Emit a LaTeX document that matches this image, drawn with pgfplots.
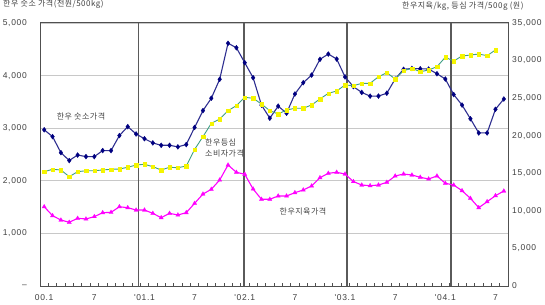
\documentclass[border=0pt]{standalone}
\usepackage{fontspec}
\setmainfont{Liberation Sans}
\newfontfamily\numfont[LetterSpace=8]{Liberation Sans}
\newfontfamily\kr[LetterSpace=6]{Noto Sans CJK KR}
\usepackage{pgfplots}
\usepackage{pgfplotstable}
\pgfplotsset{compat=1.18}
\definecolor{txt}{HTML}{404040}
\definecolor{axc}{HTML}{505050}
\definecolor{yr}{HTML}{5A5A5A}
\definecolor{grd}{HTML}{C8C8C8}
\definecolor{navyline}{HTML}{2E2E90}
\definecolor{navym}{HTML}{000080}
\definecolor{teal}{HTML}{3E9E84}
\definecolor{yel}{HTML}{F5F500}
\definecolor{mag}{HTML}{FF00FF}

\pgfplotstableread{
y
2970
2840
2535
2385
2490
2460
2460
2575
2575
2860
3030
2890
2800
2720
2675
2675
2645
2690
3015
3335
3570
3930
4615
4530
4245
3960
3440
3190
3420
3285
3650
3865
4010
4310
4410
4315
3975
3790
3680
3610
3610
3665
3935
4120
4135
4130
4125
4035
3935
3640
3440
3180
2910
2910
3360
3555
}\bluedata

\pgfplotstableread{
y
15210
15530
15440
14550
15210
15340
15340
15440
15530
15570
15800
16100
16200
15880
15440
15800
15740
15970
18190
19870
21650
22220
23330
24000
25110
24980
24220
23330
22890
23420
23650
23650
24090
24890
25640
25950
26750
26660
26970
26970
27850
28390
27550
28650
28970
28520
28740
29190
30440
29940
30610
30740
30870
30650
31410
}\yellowdata

\pgfplotstableread{
y
10550
9360
8780
8480
9010
8920
9230
9760
9800
10550
10420
10110
10110
9670
9090
9670
9450
9760
11000
12240
12870
14110
16100
15130
14870
12910
11540
11540
11980
11980
12420
12780
13310
14410
15000
15130
14900
13900
13440
13350
13440
13800
14640
14900
14770
14470
14240
14640
13670
13440
12680
11670
10420
11220
12020
12640
}\magdata

\begin{document}
\begin{tikzpicture}[x=1bp,y=1bp]
\path[draw=none, fill=none] (0,0) rectangle (545,304);
\begin{axis}[
  at={(40bp,18bp)}, anchor=south west,
  width=468bp, height=263bp, scale only axis,
  xmin=-0.5, xmax=55.5, ymin=0, ymax=5000,
  scaled x ticks=false, scaled y ticks=false,
  axis line style={draw=axc, line width=1bp},
  xtick pos=bottom, ytick pos=left,
  tick align=inside,
  xtick={0,6,...,54},
  xticklabels={00.1,7,'01.1,7,'02.1,7,'03.1,7,'04.1,7},
  major tick length=0pt,
  minor xtick={-0.5,0.5,...,55.5},
  minor tick length=3bp,
  minor tick style={draw=axc, line width=0.7bp},
  extra x ticks={11.26,23.91,36.24,48.68},
  extra x tick labels={},
  extra x tick style={xmajorgrids=true, major grid style={draw=yr, line width=1.4bp}, major tick length=0pt},
  ytick={0,1000,...,5000},
  yticklabels={{\textendash},{1,000},{2,000},{3,000},{4,000},{5,000}},
  ymajorgrids=true,
  grid style={draw=grd, line width=0.8bp},
  ticklabel style={font=\numfont\fontsize{8.5bp}{10bp}\selectfont, text=txt},
  yticklabel style={anchor=east, inner sep=0pt, xshift=-13bp},
  xticklabel style={anchor=north, inner sep=0pt, yshift=-8bp},
]
\addplot[color=navyline, line width=1.1bp, mark=diamond*, mark size=2.5bp,
  mark options={draw=navym, fill=navym, line width=0.3bp}]
  table[x expr=\coordindex, y=y] {\bluedata};
\node[font=\kr\fontsize{8bp}{9.5bp}\selectfont, text=txt, inner sep=0pt] at (axis cs:4.4,3213) {한우 숫소가격};
\node[font=\kr\fontsize{8bp}{11bp}\selectfont, text=txt, inner sep=0pt, anchor=west, align=left] at (axis cs:19.24,2614) {한우등심\\소비자가격};
\node[font=\kr\fontsize{8bp}{9.5bp}\selectfont, text=txt, inner sep=0pt] at (axis cs:30.97,1407) {한우지육가격};
\end{axis}
\begin{axis}[
  at={(40bp,18bp)}, anchor=south west,
  width=468bp, height=263bp, scale only axis,
  xmin=-0.5, xmax=55.5, ymin=0, ymax=35000,
  scaled x ticks=false, scaled y ticks=false,
  axis x line=none, axis y line*=right,
  axis line style={draw=axc, line width=1bp},
  major tick length=0pt,
  ytick={0,5000,...,35000},
  yticklabels={0,{5,000},{10,000},{15,000},{20,000},{25,000},{30,000},{35,000}},
  ticklabel style={font=\numfont\fontsize{8.5bp}{10bp}\selectfont, text=txt},
  yticklabel style={anchor=west, inner sep=0pt, xshift=4bp},
]
\addplot[color=teal, line width=0.9bp, mark=square*, mark size=1.7bp,
  mark options={draw=yel, fill=yel, line width=0.2bp}]
  table[x expr=\coordindex, y=y] {\yellowdata};
\addplot[color=mag, line width=1.1bp, mark=triangle*, mark size=2.5bp,
  mark options={draw=mag, fill=mag, line width=0.2bp}]
  table[x expr=\coordindex, y=y] {\magdata};
\end{axis}
\node[font=\kr\fontsize{8bp}{9.5bp}\selectfont, text=txt, inner sep=0pt, anchor=west] at (3,299.5) {한우 숫소 가격(천원/500kg)};
\node[font=\kr\fontsize{8bp}{9.5bp}\selectfont, text=txt, inner sep=0pt, anchor=west] at (402,297.5) {한우지육/kg, 등심 가격/500g (원)};
\end{tikzpicture}
\end{document}
